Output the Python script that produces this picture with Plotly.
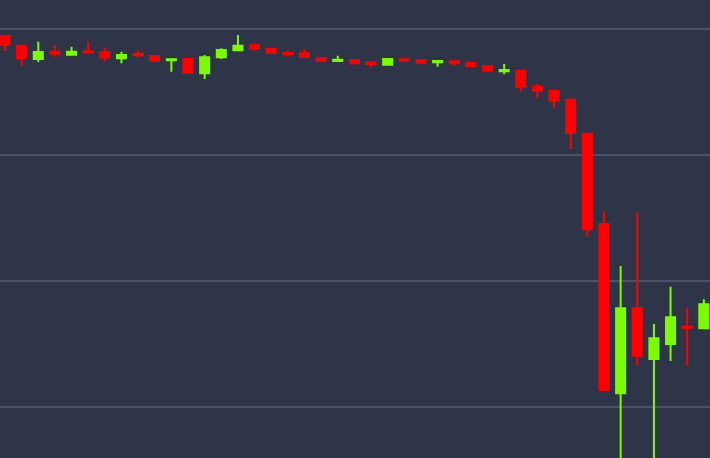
import plotly.graph_objects as go

idx = list(range(43))
open_ = [6388, 6372.7, 6351.7, 6363, 6358.5, 6364, 6362, 6353, 6360, 6356.4,
         6349.6, 6351.7, 6329, 6354.3, 6365.4, 6373.4, 6367.5, 6361.6, 6360.7, 6352.8,
         6348.5, 6350.1, 6346.4, 6342.6, 6351.2, 6349.6, 6346.4, 6348, 6345.3, 6340.6,
         6332.2, 6333.1, 6307.7, 6300.9, 6287.1, 6233.2, 6090.1, 5821.7, 5956.5, 5876.1,
         5899.9, 5927.3, 5924.8]
high = [6390, 6372.7, 6379, 6374, 6371, 6379, 6370, 6363, 6365, 6356.4,
        6351.2, 6351.7, 6358, 6368.6, 6389.7, 6376.5, 6369.6, 6364.8, 6367, 6352.8,
        6356.9, 6350.1, 6346.9, 6351.7, 6353.2, 6349.6, 6348.5, 6348, 6346.9, 6340.6,
        6343.7, 6333.1, 6312, 6300.9, 6288.2, 6233.2, 6109.6, 6023.5, 6108, 5931.6,
        5990.7, 5956.5, 5970.7]
low = [6364.3, 6341, 6347, 6355.3, 6358, 6360, 6349, 6345, 6354, 6347.4,
       6331.5, 6330, 6320, 6351.7, 6365.4, 6364.3, 6361.2, 6355.3, 6354.8, 6349,
       6346.9, 6344.8, 6337.9, 6342.6, 6346.9, 6345.8, 6339.4, 6340.6, 6340.6, 6333.1,
       6327.4, 6300.1, 6289.4, 6274.5, 6208.5, 6070.3, 5827, 5700, 5865.5, 5700,
       5872.9, 5865.5, 5924.8]
close = [6373.8, 6352.8, 6362.7, 6360, 6363, 6362, 6354, 6358, 6357.5, 6349,
         6351.2, 6330, 6354.3, 6366, 6372.7, 6368, 6361.2, 6359.1, 6354.8, 6349,
         6350.5, 6344.8, 6343.2, 6351.7, 6349, 6345.8, 6348.5, 6344.8, 6340.6, 6333.1,
         6334.2, 6307.7, 6301.4, 6285.5, 6234.3, 6081.7, 5827, 5956.5, 5881.3, 5908.9,
         5942.2, 5925.7, 5962.8]
grid_vals = [6400, 6200, 6000, 5800]

GREEN = "#7cfc00"
RED = "#ff0000"
BG = "#2e3548"

fig = go.Figure(go.Candlestick(
    x=idx, open=open_, high=high, low=low, close=close,
    increasing=dict(line=dict(color=GREEN, width=2), fillcolor=GREEN),
    decreasing=dict(line=dict(color=RED, width=2), fillcolor=RED),
    whiskerwidth=0,
    showlegend=False,
))

fig.update_layout(
    width=710, height=458,
    margin=dict(l=0, r=0, t=0, b=0),
    paper_bgcolor=BG, plot_bgcolor=BG,
    boxgap=0.22,
    xaxis=dict(range=[-0.30, 42.37], showgrid=False, zeroline=False,
               showticklabels=False, rangeslider=dict(visible=False),
               showline=False, ticks=""),
    yaxis=dict(range=[5719.2, 6445.2], tickvals=grid_vals, showgrid=True,
               gridcolor="#4a5265", gridwidth=2, zeroline=False,
               showticklabels=False, showline=False, ticks=""),
)

fig.write_html(
    "out.html",
    config={"displayModeBar": False},
    post_script="document.body.style.margin='0';document.body.style.overflow='hidden';"
                "document.body.style.background='" + BG + "';",
)
